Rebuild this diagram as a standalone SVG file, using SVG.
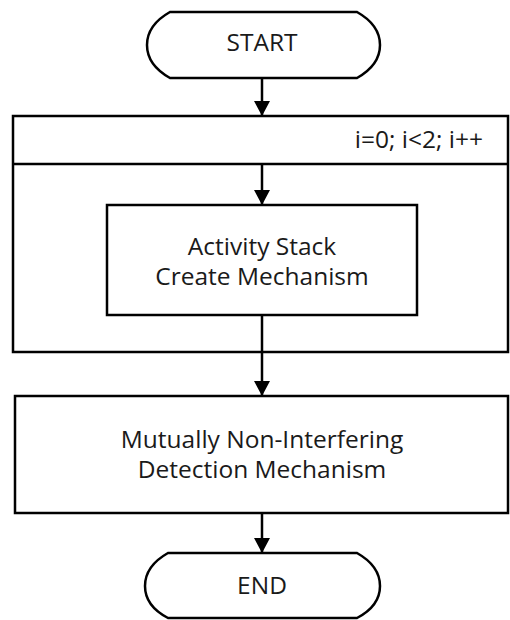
<svg xmlns="http://www.w3.org/2000/svg" width="510" height="620" viewBox="0 0 510 620">
<style>
.s{fill:#fff;stroke:#000;stroke-width:2.5}
.t{font-family:"Open Sans","Noto Sans",sans-serif;font-size:24.5px;fill:#1a1a1a;text-anchor:middle}
.c{stroke:#000;stroke-width:2.5;fill:none}
</style>
<defs>
<marker id="a" markerWidth="15" markerHeight="16" refX="15" refY="8" orient="auto" markerUnits="userSpaceOnUse" viewBox="0 0 15 16">
<path d="M0,0 L15,8 L0,16 Z" fill="#000"/>
</marker>
</defs>
<rect width="510" height="620" fill="#fff"/>
<g id="start">
<path class="s" d="M170,12 L357,12 Q380,25 380,45 Q380,65 357,78 L170,78 Q147,65 147,45 Q147,25 170,12 Z"/>
<text class="t" x="262" y="51">START</text>
</g>
<g id="loop">
<rect class="s" x="13" y="116" width="495" height="236"/>
<line x1="13" y1="164" x2="508" y2="164" stroke="#000" stroke-width="2.5"/>
<text class="t" x="483" y="148" style="text-anchor:end">i=0; i&lt;2; i++</text>
</g>
<g id="activity">
<rect class="s" x="107" y="205" width="310" height="110"/>
<text class="t" x="262" y="255">Activity Stack</text>
<text class="t" x="262" y="285">Create Mechanism</text>
</g>
<g id="detection">
<rect class="s" x="15" y="396" width="493" height="117"/>
<text class="t" x="262" y="448">Mutually Non-Interfering</text>
<text class="t" x="262" y="478">Detection Mechanism</text>
</g>
<g id="end">
<path class="s" d="M168,553 L357,553 Q380,566 380,586 Q380,606 357,618 L168,618 Q145,606 145,586 Q145,566 168,553 Z"/>
<text class="t" x="262" y="594">END</text>
</g>
<g id="connectors">
<line class="c" x1="262" y1="78" x2="262" y2="116" marker-end="url(#a)"/>
<line class="c" x1="262" y1="164" x2="262" y2="205" marker-end="url(#a)"/>
<line class="c" x1="262" y1="315" x2="262" y2="396" marker-end="url(#a)"/>
<line class="c" x1="262" y1="513" x2="262" y2="553" marker-end="url(#a)"/>
</g>
</svg>
